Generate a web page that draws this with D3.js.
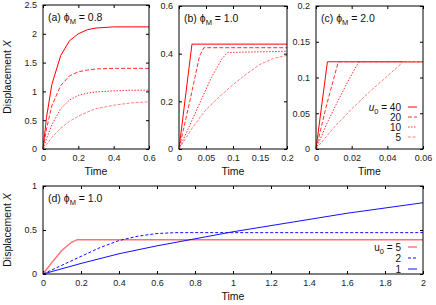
<!DOCTYPE html>
<html lang="en">
<head>
    <meta charset="UTF-8">
    <title>Displacement vs Time</title>
    <style>
        body { margin: 0; background: white; }
        svg { display: block; font-family: "Liberation Sans", Arial, sans-serif; }
        .tick text { font-size: 9px; fill: #222; }
    </style>
    <script src="https://d3js.org/d3.v7.min.js"></script>
</head>
<body>
    <svg id="svg"></svg>
    <script>
        // ---- data ----
        // (a) phi_M = 0.8
        const tA = [0, 0.02, 0.05, 0.1, 0.15, 0.2, 0.25, 0.3, 0.4, 0.5, 0.6];
        const a40 = [0, 0.55, 1.12, 1.62, 1.88, 2.0, 2.07, 2.1, 2.12, 2.12, 2.12];
        const a20 = [0, 0.35, 0.75, 1.1, 1.27, 1.34, 1.37, 1.39, 1.4, 1.4, 1.4];
        const a10 = [0, 0.18, 0.42, 0.7, 0.85, 0.93, 0.97, 0.99, 1.01, 1.02, 1.02];
        const a5 = [0, 0.08, 0.2, 0.36, 0.48, 0.57, 0.64, 0.7, 0.76, 0.8, 0.82];
        // (b) phi_M = 1.0
        const b40T = [0, 0.024, 0.2];
        const b40 = [0, 0.44, 0.44];
        const b20T = [0, 0.02, 0.038, 0.046, 0.2];
        const b20 = [0, 0.2, 0.39, 0.425, 0.425];
        const b10T = [0, 0.02, 0.04, 0.06, 0.08, 0.09, 0.2];
        const b10 = [0, 0.1, 0.2, 0.3, 0.38, 0.405, 0.41];
        const b5T = [0, 0.025, 0.05, 0.075, 0.1, 0.125, 0.15, 0.175, 0.2];
        const b5 = [0, 0.09, 0.165, 0.22, 0.27, 0.315, 0.355, 0.38, 0.393];
        // (c) phi_M = 2.0
        const c40T = [0, 0.0064, 0.06];
        const c40 = [0, 0.122, 0.122];
        const c20T = [0, 0.006, 0.0125, 0.06];
        const c20 = [0, 0.062, 0.122, 0.122];
        const c10T = [0, 0.006, 0.012, 0.018, 0.024, 0.06];
        const c10 = [0, 0.035, 0.066, 0.095, 0.122, 0.122];
        const c5T = [0, 0.01, 0.02, 0.03, 0.04, 0.049, 0.06];
        const c5 = [0, 0.03, 0.056, 0.08, 0.102, 0.122, 0.122];
        // (d) phi_M = 1.0, different u0
        const d5T = [0, 0.05, 0.1, 0.15, 0.18, 2];
        const d5 = [0, 0.14, 0.27, 0.36, 0.39, 0.39];
        const d2T = [0, 0.1, 0.2, 0.3, 0.4, 0.5, 0.6, 0.7, 2];
        const d2 = [0, 0.1, 0.2, 0.3, 0.38, 0.43, 0.46, 0.47, 0.47];
        const d1T = [0, 0.2, 0.4, 0.6, 0.8, 1.0, 1.2, 1.4, 1.6, 1.8, 2.0];
        const d1 = [0, 0.12, 0.23, 0.32, 0.4, 0.48, 0.55, 0.62, 0.69, 0.75, 0.81];

        const ticksA = [[0, 0.2, 0.4, 0.6], [0, 0.5, 1, 1.5, 2, 2.5]];
        const ticksB = [[0, 0.05, 0.1, 0.15, 0.2], [0, 0.2, 0.4, 0.6]];
        const ticksC = [[0, 0.02, 0.04, 0.06], [0, 0.05, 0.1, 0.15, 0.2]];
        const ticksD = [[0, 0.2, 0.4, 0.6, 0.8, 1, 1.2, 1.4, 1.6, 1.8, 2], [0, 0.5, 1]];

        const legendTop = ['40', '20', '10', '5'];
        const legendBottom = ['5', '2', '1'];

        // line styles (gnuplot-like)
        const red = [
            { color: '#ff0000', dash: null },
            { color: '#ff3030', dash: '4,2' },
            { color: '#ff3030', dash: '1.5,1.5' },
            { color: '#ff8080', dash: '3,1.5' }
        ];
        const blue = [
            { color: '#ff7070', dash: null, w: 1.4 },
            { color: '#1010ff', dash: '3,2' },
            { color: '#1010ff', dash: null }
        ];

        const svg = d3.select('#svg').attr('width', 436).attr('height', 305);

        function panel(box, xDom, yDom, ticks, curves, styles, label) {
            const x = d3.scaleLinear().domain(xDom).range([box.l, box.r]);
            const y = d3.scaleLinear().domain(yDom).range([box.b, box.t]);
            const g = svg.append('g');

            g.append('g').attr('transform', 'translate(0,' + box.b + ')')
                .call(d3.axisBottom(x).tickValues(ticks[0]).tickSize(-3).tickPadding(6).tickFormat(d3.format('~g')));
            g.append('g').attr('transform', 'translate(0,' + box.t + ')')
                .call(d3.axisTop(x).tickValues(ticks[0]).tickSize(-3).tickFormat(''));
            g.append('g').attr('transform', 'translate(' + box.l + ',0)')
                .call(d3.axisLeft(y).tickValues(ticks[1]).tickSize(-3).tickPadding(6).tickFormat(d3.format('~g')));
            g.append('g').attr('transform', 'translate(' + box.r + ',0)')
                .call(d3.axisRight(y).tickValues(ticks[1]).tickSize(-3).tickFormat(''));
            g.selectAll('.domain').remove();
            g.selectAll('.tick line').attr('stroke', '#000');

            const line = d3.line().x(d => x(d[0])).y(d => y(d[1]));
            curves.forEach((c, i) => {
                const pts = c[0].map((t, k) => [t, c[1][k]]);
                g.append('path')
                    .attr('d', line(pts))
                    .attr('fill', 'none')
                    .attr('stroke', styles[i].color)
                    .attr('stroke-width', styles[i].w || 1)
                    .attr('stroke-dasharray', styles[i].dash);
            });

            g.append('rect')
                .attr('x', box.l).attr('y', box.t)
                .attr('width', box.r - box.l).attr('height', box.b - box.t)
                .attr('fill', 'none').attr('stroke', '#000').attr('stroke-width', 1);

            const lab = g.append('text').attr('x', box.l + 5).attr('y', box.t + 16)
                .attr('font-size', 10.5).attr('fill', '#111');
            lab.append('tspan').text('(' + label[0] + ') \u03d5');
            lab.append('tspan').attr('font-size', 7.5).attr('dy', 3).text('M');
            lab.append('tspan').attr('dy', -3).text(' = ' + label[1]);

            g.append('text').attr('x', (box.l + box.r) / 2).attr('y', box.b + 26)
                .attr('text-anchor', 'middle').attr('font-size', 10.5).attr('fill', '#111').text('Time');
            return g;
        }

        function ylabel(cx, cy) {
            const t = svg.append('text')
                .attr('transform', 'translate(' + cx + ',' + cy + ') rotate(-90)')
                .attr('text-anchor', 'middle').attr('font-size', 10.5).attr('fill', '#111');
            t.append('tspan').text('Displacement  ');
            t.append('tspan').attr('font-style', 'italic').text('X');
        }

        function legend(g, labels, styles, xText, y0, dy, italic) {
            labels.forEach((s, i) => {
                const yy = y0 + i * dy;
                const t = g.append('text').attr('x', xText).attr('y', yy + 3.5)
                    .attr('text-anchor', 'end').attr('font-size', 10).attr('fill', '#111');
                if (i === 0) {
                    t.append('tspan').attr('font-style', italic ? 'italic' : 'normal').text('u');
                    t.append('tspan').attr('font-size', 7.5).attr('dy', 3).text('0');
                    t.append('tspan').attr('dy', -3).text(' = ' + s);
                } else {
                    t.text(s);
                }
                g.append('line').attr('x1', xText + 7).attr('x2', xText + 16)
                    .attr('y1', yy).attr('y2', yy)
                    .attr('stroke', styles[i].color)
                    .attr('stroke-width', styles[i].w || 1)
                    .attr('stroke-dasharray', styles[i].dash);
            });
        }

        panel({ l: 43, r: 149, t: 5, b: 149 }, [0, 0.6], [0, 2.5], ticksA,
            [[tA, a40], [tA, a20], [tA, a10], [tA, a5]], red, ['a', '0.8']);
        panel({ l: 179, r: 287, t: 6, b: 149 }, [0, 0.2], [0, 0.6], ticksB,
            [[b40T, b40], [b20T, b20], [b10T, b10], [b5T, b5]], red, ['b', '1.0']);
        const gc = panel({ l: 316, r: 423, t: 6, b: 149 }, [0, 0.06], [0, 0.2], ticksC,
            [[c40T, c40], [c20T, c20], [c10T, c10], [c5T, c5]], red, ['c', '2.0']);
        legend(gc, legendTop, red, 401, 107, 10, true);

        const gd = panel({ l: 43, r: 423, t: 186, b: 274 }, [0, 2], [0, 1], ticksD,
            [[d5T, d5], [d2T, d2], [d1T, d1]], blue, ['d', '1.0']);
        legend(gd, legendBottom, blue, 401, 247, 11, false);

        ylabel(11, 77);
        ylabel(11, 230);
    </script>
</body>
</html>
